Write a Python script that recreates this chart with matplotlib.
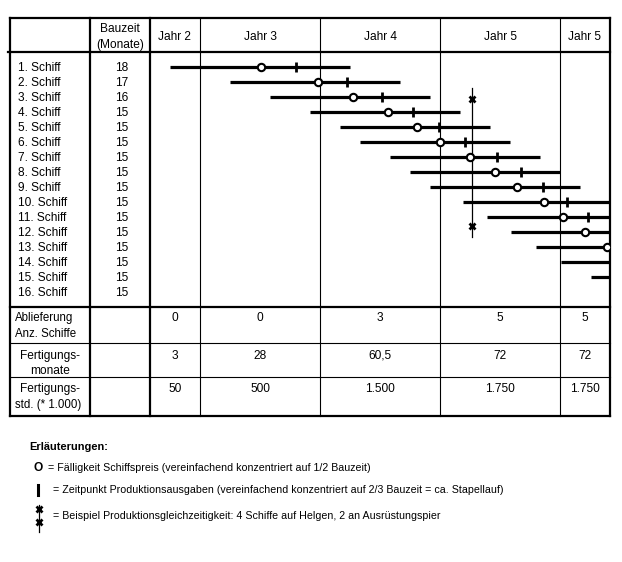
import matplotlib
matplotlib.use("Agg")
import matplotlib.pyplot as plt
from matplotlib.transforms import blended_transform_factory

plt.rcParams['font.family'] = ['Liberation Sans', 'DejaVu Sans']

# data (months counted from the start of "Jahr 3")
ships = ["1. Schiff", "2. Schiff", "3. Schiff", "4. Schiff", "5. Schiff", "6. Schiff",
         "7. Schiff", "8. Schiff", "9. Schiff", "10. Schiff", "11. Schiff", "12. Schiff",
         "13. Schiff", "14. Schiff", "15. Schiff", "16. Schiff"]
bauzeit = [18, 17, 16, 15, 15, 15, 15, 15, 15, 15, 15, 15, 15, 15, 15, 15]
start = [-3.0, 3.0, 7.0, 11.0, 14.0, 16.0, 19.0, 21.0, 23.0, 26.3, 28.7, 31.1,
         33.6, 36.1, 39.1, None]
price_due = [6.1, 11.8, 15.3, 18.8, 21.7, 24.0, 27.0, 29.5, 31.7, 34.4, 36.3, 38.5,
             40.7, None, None, None]
production = [9.6, 14.7, 18.2, 21.3, 23.9, 26.5, 29.7, 32.1, 34.3, 36.7, 38.8,
              None, None, None, None, None]

years = ["Jahr 2", "Jahr 3", "Jahr 4", "Jahr 5", "Jahr 5"]
year_bounds = [-5, 0, 12, 24, 36, 41]
ablieferung = ["0", "0", "3", "5", "5"]
fert_monate = ["3", "28", "60,5", "72", "72"]
fert_std = ["50", "500", "1.500", "1.750", "1.750"]

# example of simultaneous production
simul_month = 27.2
simul_rows = [2.37, 12.3]
simul_marks = [3.1, 11.6]

W, H = 622, 562
fig = plt.figure(figsize=(W / 100, H / 100), dpi=100)
fig.patch.set_facecolor('white')

# page axes in pixels
ax = fig.add_axes([0, 0, 1, 1])
ax.set_xlim(0, W)
ax.set_ylim(H, 0)
ax.axis('off')

# gantt axes (months x ship rows)
gx0, gx1, gy0, gy1 = 150, 610, 52, 307
ax_g = fig.add_axes([gx0 / W, 1 - gy1 / H, (gx1 - gx0) / W, (gy1 - gy0) / H])
ax_g.set_xlim(year_bounds[0], year_bounds[-1])
ax_g.set_ylim(16.97, -0.033)
ax_g.axis('off')
ax_g.patch.set_alpha(0)

thick, thin = 1.6, 0.8
L, R, T, B = 10, 610, 18, 416

# horizontal lines
ax.plot([L, R], [T, T], color='black', lw=thick)
ax.plot([8, R], [52, 52], color='black', lw=thick)
ax.plot([L, R], [307, 307], color='black', lw=thick)
ax.plot([L, R], [343, 343], color='black', lw=thin)
ax.plot([L, R], [377, 377], color='black', lw=thin)
ax.plot([L, R], [B, B], color='black', lw=thick)
# vertical lines
for x in [L, 90, 150, R]:
    ax.plot([x, x], [T, B], color='black', lw=thick)

bt = blended_transform_factory(ax_g.transData, ax.transData)
for m in year_bounds[1:-1]:
    ax.plot([m, m], [T, B], color='black', lw=thin, transform=bt)

fs = 8.6
ax.text(120, 29, "Bauzeit", ha='center', va='center', fontsize=fs)
ax.text(120, 45, "(Monate)", ha='center', va='center', fontsize=fs)
for i, yr in enumerate(years):
    xm = (year_bounds[i] + year_bounds[i + 1]) / 2
    ax.text(xm, 37, yr, ha='center', va='center', fontsize=fs, transform=bt)
    ax.text(xm, 318, ablieferung[i], ha='center', va='center', fontsize=fs, transform=bt)
    ax.text(xm, 356, fert_monate[i], ha='center', va='center', fontsize=fs, transform=bt)
    ax.text(xm, 389, fert_std[i], ha='center', va='center', fontsize=fs, transform=bt)

ax.text(15, 318, "Ablieferung", ha='left', va='center', fontsize=8.3)
ax.text(15, 334, "Anz. Schiffe", ha='left', va='center', fontsize=8.3)
ax.text(50, 356, "Fertigungs-", ha='center', va='center', fontsize=fs)
ax.text(50, 371, "monate", ha='center', va='center', fontsize=fs)
ax.text(50, 389, "Fertigungs-", ha='center', va='center', fontsize=fs)
ax.text(15, 405, "std. (* 1.000)", ha='left', va='center', fontsize=8.3)

# ship rows
rows = list(range(1, len(ships) + 1))
bt_rows = blended_transform_factory(ax.transData, ax_g.transData)
for r, name, bz in zip(rows, ships, bauzeit):
    ax.text(18, r + 0.04, name, ha='left', va='center', fontsize=fs, transform=bt_rows)
    ax.text(122, r + 0.04, str(bz), ha='center', va='center', fontsize=fs, transform=bt_rows)

for r, s, bz in zip(rows, start, bauzeit):
    if s is None:
        continue
    ax_g.plot([s, s + bz], [r, r], color='black', lw=2.3, solid_capstyle='butt', zorder=2)

for r, p in zip(rows, production):
    if p is not None:
        ax_g.plot([p], [r], marker='|', ms=7, mew=2, color='black', zorder=3)
for r, c in zip(rows, price_due):
    if c is not None:
        ax_g.plot([c], [r], marker='o', ms=5.3, mew=1.5, mfc='white', mec='black', zorder=4)

ax_g.plot([simul_month, simul_month], simul_rows, color='black', lw=0.9, zorder=3)
ax_g.plot([simul_month] * 2, simul_marks, ls='none', marker='x', ms=5, mew=2,
          color='black', zorder=5)

# explanations
lfs = 7.7
ax.text(29, 447, "Erläuterungen:", ha='left', va='center', fontsize=7.9, fontweight='bold')
ax.text(38, 468, "O", ha='center', va='center', fontsize=8.6, fontweight='bold')
ax.text(48, 468, "= Fälligkeit Schiffspreis (vereinfachend konzentriert auf 1/2 Bauzeit)",
        ha='left', va='center', fontsize=lfs)
ax.plot([38, 38], [485, 495], color='black', lw=2.2)
ax.text(53, 490, "= Zeitpunkt Produktionsausgaben (vereinfachend konzentriert auf 2/3 Bauzeit = ca. Stapellauf)",
        ha='left', va='center', fontsize=lfs)
ax.plot([39, 39], [505, 532], color='black', lw=0.9)
ax.plot([39, 39], [509, 522], ls='none', marker='x', ms=5, mew=2, color='black')
ax.text(53, 516, "= Beispiel Produktionsgleichzeitigkeit: 4 Schiffe auf Helgen, 2 an Ausrüstungspier",
        ha='left', va='center', fontsize=lfs)

fig.savefig("out.png", dpi=100, facecolor='white')
